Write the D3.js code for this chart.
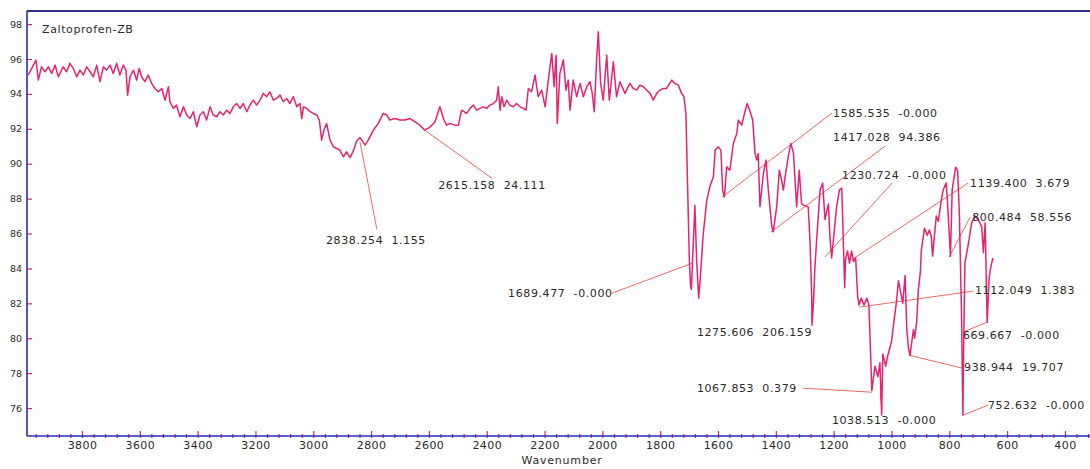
<!DOCTYPE html>
<html><head><meta charset="utf-8">
<script src="https://cdn.jsdelivr.net/npm/d3@7"></script>
<style>
html,body{margin:0;padding:0;background:#fff;}
svg{display:block;font-family:"DejaVu Sans",Verdana,sans-serif;}
text{white-space:pre;}
</style></head><body>
<svg id="chart" width="1090" height="469"></svg>
<script>
// ---- data ----
const sampleName = "Zaltoprofen-ZB";
const xTitle = "Wavenumber";
const xTickValues = [3800, 3600, 3400, 3200, 3000, 2800, 2600, 2400, 2200, 2000, 1800, 1600, 1400, 1200, 1000, 800, 600, 400];
const yTickValues = [76, 78, 80, 82, 84, 86, 88, 90, 92, 94, 96, 98];

// FT-IR spectrum: [wavenumber (cm-1), transmittance (%T)]
const spectrum = [
  [3986,95.08],[3959,95.94],[3951,94.79],[3940,95.55],[3928,95.27],[3916,95.55],[3905,95.17],[3893,95.65],
  [3882,94.98],[3865,95.55],[3853,95.27],[3842,95.75],[3830,95.46],[3818,94.98],[3807,95.36],[3795,95.08],
  [3784,95.55],[3772,95.27],[3761,94.98],[3749,95.65],[3738,94.70],[3726,95.55],[3715,95.36],[3703,95.65],
  [3692,95.17],[3680,95.75],[3669,95.08],[3657,95.65],[3648,95.36],[3642,93.93],[3634,94.98],[3622,95.36],
  [3611,94.79],[3602,95.46],[3594,94.98],[3582,94.70],[3571,95.08],[3559,94.60],[3548,94.31],[3536,94.12],
  [3524,94.31],[3513,93.64],[3501,94.41],[3496,93.55],[3484,93.17],[3473,93.36],[3461,92.69],[3449,93.26],
  [3438,92.79],[3426,92.59],[3415,92.98],[3403,92.12],[3392,92.79],[3380,92.98],[3369,92.50],[3357,93.26],
  [3346,92.79],[3334,92.69],[3323,92.98],[3311,92.79],[3300,93.07],[3288,92.88],[3277,93.26],[3265,93.45],
  [3253,93.17],[3242,93.45],[3230,92.98],[3219,93.36],[3207,93.64],[3196,93.36],[3184,93.64],[3173,94.03],
  [3161,93.84],[3150,94.12],[3138,93.64],[3127,93.74],[3115,93.93],[3104,93.55],[3092,93.74],[3081,93.45],
  [3069,93.84],[3057,93.26],[3046,93.45],[3040,92.59],[3034,93.26],[3023,93.17],[3011,92.98],[3000,92.88],
  [2988,92.79],[2979,92.50],[2971,91.35],[2963,91.93],[2954,92.31],[2942,91.35],[2931,90.97],[2919,90.87],
  [2908,90.78],[2896,90.40],[2885,90.68],[2873,90.35],[2861,90.75],[2850,91.30],[2838,91.50],[2821,91.07],
  [2810,91.35],[2792,91.93],[2775,92.31],[2758,92.88],[2746,92.79],[2735,92.50],[2717,92.59],[2700,92.50],
  [2683,92.50],[2665,92.59],[2648,92.40],[2631,92.21],[2615,91.93],[2600,92.05],[2590,92.21],[2579,92.40],
  [2562,93.26],[2550,92.59],[2539,92.21],[2527,92.31],[2510,92.21],[2498,92.21],[2487,93.07],[2469,92.88],
  [2458,93.17],[2446,93.36],[2435,93.07],[2423,93.17],[2412,93.26],[2400,93.17],[2389,93.36],[2377,93.45],
  [2366,93.64],[2360,94.41],[2354,93.07],[2348,93.84],[2340,93.26],[2331,93.64],[2320,93.36],[2308,93.26],
  [2297,93.45],[2285,93.26],[2273,93.17],[2264,93.07],[2256,94.31],[2245,94.12],[2233,95.08],[2222,93.84],
  [2210,94.22],[2198,93.26],[2187,94.79],[2175,96.32],[2167,94.41],[2160,96.22],[2156,92.31],[2147,95.17],
  [2135,95.94],[2126,94.22],[2118,94.79],[2112,93.07],[2101,94.79],[2089,93.84],[2077,94.60],[2066,93.84],
  [2054,94.41],[2043,94.70],[2035,94.03],[2028,92.98],[2020,95.94],[2014,97.56],[2006,94.60],[1997,93.64],
  [1985,96.22],[1976,93.64],[1962,95.84],[1951,93.84],[1939,94.70],[1922,94.03],[1905,94.60],[1893,94.31],
  [1881,94.22],[1870,94.50],[1858,94.41],[1847,94.22],[1835,94.03],[1824,93.64],[1812,94.03],[1801,94.22],
  [1789,94.31],[1778,94.31],[1760,94.79],[1749,94.60],[1737,94.50],[1726,94.03],[1718,93.84],[1711,92.88],
  [1703,87.15],[1699,84.38],[1695,83.00],[1692,82.80],[1688,84.50],[1680,87.60],[1674,84.50],[1667,82.30],
  [1662,83.30],[1651,86.00],[1639,87.90],[1628,88.70],[1616,89.25],[1610,90.78],[1599,90.97],[1590,90.78],
  [1584,88.49],[1578,88.10],[1570,89.82],[1559,89.63],[1547,91.16],[1535,91.73],[1530,92.50],[1518,92.21],
  [1507,92.98],[1499,93.45],[1489,92.98],[1480,92.50],[1472,90.59],[1466,90.21],[1461,90.59],[1455,87.53],
  [1443,89.44],[1434,90.21],[1426,88.49],[1414,86.39],[1409,86.10],[1397,87.53],[1388,89.63],[1380,89.06],
  [1374,88.49],[1368,89.25],[1357,90.40],[1348,91.16],[1339,90.59],[1328,87.53],[1319,89.63],[1311,87.72],
  [1305,87.63],[1288,87.53],[1282,85.62],[1276,82.50],[1275,80.75],[1270,82.00],[1265,84.00],[1259,85.60],
  [1247,88.50],[1238,88.90],[1230,86.80],[1218,87.70],[1213,85.80],[1207,84.60],[1201,85.60],[1190,87.50],
  [1180,88.50],[1172,88.60],[1169,87.00],[1162,82.90],[1159,84.50],[1152,85.00],[1145,84.30],[1138,85.00],
  [1131,84.40],[1124,84.60],[1117,82.40],[1112,81.90],[1105,82.30],[1095,81.90],[1085,82.30],[1078,81.90],
  [1068,77.00],[1057,78.40],[1047,77.80],[1040,78.60],[1034,75.60],[1030,79.10],[1020,78.40],[1013,79.00],
  [1000,79.80],[992,80.90],[982,82.20],[976,83.30],[961,82.00],[953,83.60],[947,80.50],[941,79.40],
  [936,79.00],[924,80.50],[920,80.00],[913,80.90],[907,82.80],[900,83.80],[897,85.00],[886,86.30],
  [876,85.90],[869,86.20],[862,85.80],[858,84.70],[845,87.00],[838,86.70],[828,87.90],[821,88.50],
  [811,88.90],[807,88.00],[796,84.70],[790,88.50],[778,89.80],[771,89.60],[765,87.00],[758,81.60],
  [753,75.60],[750,80.00],[746,84.30],[734,85.40],[723,86.60],[711,87.00],[700,86.80],[688,86.40],
  [682,84.90],[676,86.60],[671,82.50],[669,80.90],[662,83.50],[655,84.20],[649,84.60]
];

// picked peaks: wavenumber, %T where the leader touches the trace, printed text
const peakWn   = [2838.254, 2615.158, 1689.477, 1585.535, 1417.028, 1230.724, 1139.400, 800.484, 1112.049, 669.667, 938.944, 752.632, 1067.853, 1038.513, 1275.606];
const peakT    = [91.24, 91.93, 84.30, 88.09, 86.08, 84.65, 84.48, 84.65, 81.78, 80.92, 79.03, 75.59, 76.91, 76.85, 80.75];
const peakText = ["2838.254  1.155", "2615.158  24.111", "1689.477  -0.000", "1585.535  -0.000", "1417.028  94.386",
                  "1230.724  -0.000", "1139.400  3.679", "800.484  58.556", "1112.049  1.383", "669.667  -0.000",
                  "938.944  19.707", "752.632  -0.000", "1067.853  0.379", "1038.513  -0.000", "1275.606  206.159"];

// label placement in axis units: text start [wn, %T], leader end [wn, %T] (null = no leader)
const labelLayout = [
  {at:[2956,85.62], end:[2780,86.25]},
  {at:[2568,88.77], end:[2382,89.17]},
  {at:[2326,82.58], end:[1967,82.58]},
  {at:[1202,92.90], end:[1206,92.90]},
  {at:[1202,91.52], end:[1022,91.01]},
  {at:[1171,89.35], end:[998,88.89]},
  {at:[728,88.89],  end:[735,88.89]},
  {at:[721,86.94],  end:[728,86.94]},
  {at:[711,82.76],  end:[718,82.70]},
  {at:[753,80.18],  end:[753,80.35]},
  {at:[749,78.34],  end:[756,78.29]},
  {at:[666,76.17],  end:[666,76.17]},
  {at:[1673,77.14], end:[1306,77.14]},
  {at:[1206,75.31], end:[1033,75.88]},
  {at:[1673,80.35], end:null}
];

// ---- drawing ----
const W = 1090, H = 469;
const plot = {left: 27, right: 1100, top: 11, bottom: 436};
const traceColor = "#e5236f", leaderColor = "#ea6a62", tickColor = "#d0285a";
const frameColor = "#2b2bb5", textColor = "#2a2a2a";

const svg = d3.select("#chart");
const x = d3.scaleLinear().domain([3990.2, 278.7]).range([plot.left, plot.right]);
const y = d3.scaleLinear().domain([98.75, 74.4]).range([plot.top, plot.bottom]);

svg.append("clipPath").attr("id", "plotClip").append("rect")
  .attr("x", plot.left).attr("y", plot.top)
  .attr("width", plot.right - plot.left).attr("height", plot.bottom - plot.top);

// x axis labels and ticks
const gx = svg.append("g").attr("transform", `translate(0,${plot.bottom})`)
  .call(d3.axisBottom(x).tickValues(xTickValues).tickSize(0).tickPadding(5).tickFormat(d3.format("d")));
gx.select(".domain").remove();
gx.selectAll("text").attr("fill", textColor).attr("font-size", 11).attr("letter-spacing", 0.4)
  .attr("font-family", "DejaVu Sans, sans-serif");
gx.selectAll(".tick line").attr("y1", -5).attr("y2", 2).attr("stroke", tickColor).attr("stroke-width", 1.2);

const minorX = d3.range(3960, 280, -40).filter(v => v % 200 !== 0);
const gxm = svg.append("g").attr("transform", `translate(0,${plot.bottom})`)
  .call(d3.axisBottom(x).tickValues(minorX).tickSize(2).tickFormat(""));
gxm.select(".domain").remove();
gxm.selectAll(".tick line").attr("y1", -2).attr("y2", 2).attr("stroke", tickColor).attr("stroke-width", 1.2);

// y axis
const gy = svg.append("g").attr("transform", `translate(${plot.left},0)`)
  .call(d3.axisLeft(y).tickValues(yTickValues).tickSize(0).tickPadding(5));
gy.select(".domain").remove();
gy.selectAll("text").attr("fill", textColor).attr("font-size", 9.5).attr("font-family", "DejaVu Sans, sans-serif");
gy.selectAll(".tick line").attr("x1", 0).attr("x2", 5).attr("stroke", tickColor).attr("stroke-width", 1.2);

// frame
svg.append("line").attr("x1", plot.left).attr("x2", W).attr("y1", plot.top).attr("y2", plot.top)
  .attr("stroke", "#2e2e8c").attr("stroke-width", 2);
svg.append("line").attr("x1", plot.left).attr("x2", plot.left).attr("y1", plot.top).attr("y2", plot.bottom)
  .attr("stroke", frameColor).attr("stroke-width", 1.6);
svg.append("line").attr("x1", plot.left).attr("x2", W).attr("y1", plot.bottom).attr("y2", plot.bottom)
  .attr("stroke", frameColor).attr("stroke-width", 1.6);

// leader lines
const peaks = peakWn.map((wn, i) => ({wn, t: peakT[i], text: peakText[i], layout: labelLayout[i]}));
svg.append("g").selectAll("line").data(peaks.filter(p => p.layout.end)).join("line")
  .attr("x1", d => x(d.wn)).attr("y1", d => y(d.t))
  .attr("x2", d => x(d.layout.end[0])).attr("y2", d => y(d.layout.end[1]))
  .attr("stroke", leaderColor).attr("stroke-width", 1);

// spectrum trace
svg.append("path").datum(spectrum)
  .attr("clip-path", "url(#plotClip)")
  .attr("fill", "none").attr("stroke", traceColor).attr("stroke-width", 1.5)
  .attr("stroke-linejoin", "round")
  .attr("d", d3.line().x(d => x(d[0])).y(d => y(d[1])));

// peak labels
svg.append("g").selectAll("text").data(peaks).join("text")
  .attr("x", d => x(d.layout.at[0])).attr("y", d => y(d.layout.at[1]))
  .attr("dy", "0.35em").attr("font-size", 11).attr("letter-spacing", 0.6)
  .attr("fill", textColor).text(d => d.text);

// sample name and axis title
svg.append("text").attr("x", 42).attr("y", 29).attr("dy", "0.35em")
  .attr("font-size", 11).attr("letter-spacing", 0.6).attr("fill", textColor).text(sampleName);
svg.append("text").attr("x", 562).attr("y", 460).attr("dy", "0.35em").attr("text-anchor", "middle")
  .attr("font-size", 11).attr("letter-spacing", 0.8).attr("fill", textColor).text(xTitle);
</script>
</body></html>
